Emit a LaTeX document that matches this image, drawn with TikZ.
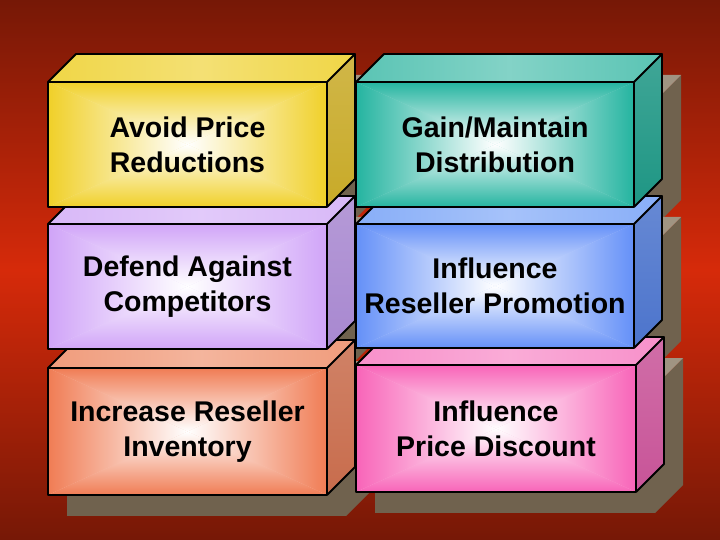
\documentclass[tikz,border=0pt]{standalone}
\usepackage{fontspec}
\setmainfont{Liberation Sans}
\usetikzlibrary{calc}
\definecolor{bgdark}{RGB}{118,24,6}
\definecolor{bgbright}{RGB}{214,42,10}
\definecolor{shtop}{RGB}{160,148,130}
\definecolor{shdark}{RGB}{112,98,78}
\definecolor{yelF}{RGB}{240,208,40}
\definecolor{yelT}{RGB}{240,214,70}
\definecolor{yelR}{RGB}{200,170,40}
\definecolor{teaF}{RGB}{36,180,160}
\definecolor{teaT}{RGB}{90,196,180}
\definecolor{teaR}{RGB}{30,150,132}
\definecolor{purF}{RGB}{208,164,248}
\definecolor{purT}{RGB}{216,184,248}
\definecolor{purR}{RGB}{168,136,208}
\definecolor{bluF}{RGB}{100,144,248}
\definecolor{bluT}{RGB}{136,174,248}
\definecolor{bluR}{RGB}{76,116,204}
\definecolor{oraF}{RGB}{240,124,84}
\definecolor{oraT}{RGB}{240,156,124}
\definecolor{oraR}{RGB}{200,108,76}
\definecolor{pinF}{RGB}{248,100,184}
\definecolor{pinT}{RGB}{248,144,202}
\definecolor{pinR}{RGB}{200,84,152}
\tikzset{
  edge/.style={draw=black,line width=1.8pt,line join=round},
  boxtext/.style={align=center,inner sep=0pt,text=black,
    font=\fontsize{28.5}{35}\selectfont\bfseries}
}
% shadow silhouette: x0 y0 x1 y1
\newcommand\boxshadow[4]{%
  \fill[shdark] (#1+19,#2+21) rectangle (#3+19,#4+21);
  \fill[shdark] (#3+19,#2+21) -- (#3+47,#2-7) -- (#3+47,#4-7) -- (#3+19,#4+21) -- cycle;
  \fill[shtop] (#1+19,#2+21) -- (#1+47,#2-7) -- (#3+47,#2-7) -- (#3+19,#2+21) -- cycle;
}
% 3D box: name x0 y0 x1 y1 front top right text
\newcommand\threedbox[9]{%
  \coordinate (#1c) at ({(#2+#4)/2},{(#3+#5)/2});
  \fill[#6!45!white] (#2,#3) rectangle (#4,#5);
  \shade[top color=#6,bottom color=white] (#2,#3) -- (#4,#3) -- (#1c) -- cycle;
  \shade[top color=white,bottom color=#6] (#2,#5) -- (#4,#5) -- (#1c) -- cycle;
  \shade[left color=#6,right color=white] (#2,#3) -- (#2,#5) -- (#1c) -- cycle;
  \shade[left color=white,right color=#6] (#4,#3) -- (#4,#5) -- (#1c) -- cycle;
  \shade[left color=#7,right color=#7,middle color=#7!75!white]
    (#2,#3) -- (#2+28,#3-28) -- (#4+28,#3-28) -- (#4,#3) -- cycle;
  \shade[top color=#8!85!white,bottom color=#8]
    (#4,#3) -- (#4+28,#3-28) -- (#4+28,#5-28) -- (#4,#5) -- cycle;
  \draw[edge] (#2,#3) rectangle (#4,#5);
  \draw[edge] (#2,#3) -- (#2+28,#3-28) -- (#4+28,#3-28) -- (#4,#3);
  \draw[edge] (#4+28,#3-28) -- (#4+28,#5-28) -- (#4,#5);
  \node[boxtext] (#1) at (#1c) {#9};
}
\begin{document}
\begin{tikzpicture}[x=1pt,y=-1pt]
\useasboundingbox (0,0) rectangle (720,540);
\shade[top color=bgdark,bottom color=bgdark,middle color=bgbright] (0,0) rectangle (720,540);
% shadows
\boxshadow{48}{82}{327}{207}
\boxshadow{356}{82}{634}{207}
\boxshadow{48}{224}{327}{349}
\boxshadow{356}{224}{634}{348}
\boxshadow{48}{368}{327}{495}
\boxshadow{356}{365}{636}{492}
% boxes, bottom row first
\threedbox{inv}{48}{368}{327}{495}{oraF}{oraT}{oraR}{Increase Reseller\\Inventory}
\threedbox{disc}{356}{365}{636}{492}{pinF}{pinT}{pinR}{Influence\\Price Discount}
\threedbox{comp}{48}{224}{327}{349}{purF}{purT}{purR}{Defend Against\\Competitors}
\threedbox{promo}{356}{224}{634}{348}{bluF}{bluT}{bluR}{Influence\\Reseller Promotion}
\threedbox{price}{48}{82}{327}{207}{yelF}{yelT}{yelR}{Avoid Price\\Reductions}
\threedbox{dist}{356}{82}{634}{207}{teaF}{teaT}{teaR}{Gain/Maintain\\Distribution}
\end{tikzpicture}
\end{document}
